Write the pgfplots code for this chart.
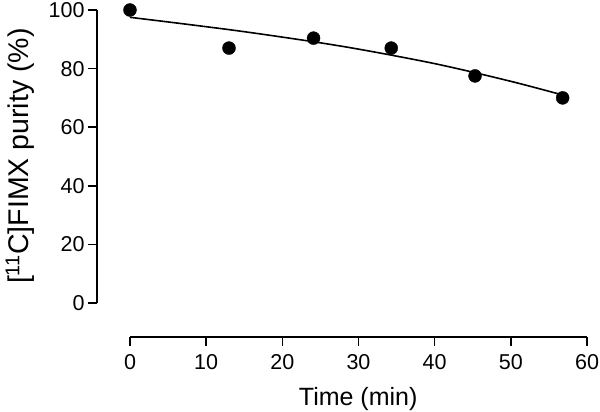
\documentclass[border=0pt]{standalone}
\usepackage{fontspec}
\setmainfont{Liberation Sans}
\usepackage{pgfplots}
\pgfplotsset{compat=1.18}
\newcommand{\tickfont}{\fontsize{21.5}{24}\selectfont}
\begin{document}
\begin{tikzpicture}
\useasboundingbox (-97pt,-75pt) rectangle (503pt,337pt);
\begin{axis}[
  scale only axis, width=490pt, height=327pt,
  xmin=-4.33, xmax=60, ymin=-11.6, ymax=100,
  axis lines=left, axis line style={draw=none, -},
  xtick={0,10,...,60}, ytick={0,20,...,100},
  tick align=outside, major tick length=9pt,
  tick style={line width=1.6pt, black},
  /pgf/number format/assume math mode=true,
  xticklabel style={font=\tickfont, yshift=-5pt},
  yticklabel style={font=\tickfont},
  xlabel={Time (min)}, ylabel={[\textsuperscript{11}C]FIMX purity (\%)},
  xlabel style={font=\fontsize{25}{27}\selectfont, at={(rel axis cs:0.533,-0.19)}, anchor=center},
  ylabel style={font=\fontsize{28.5}{30}\selectfont, at={(rel axis cs:-0.157,0.553)}, anchor=center},
  clip=false,
]
\draw[line width=1.6pt] (axis cs:-4.33,0) -- (axis cs:-4.33,100);
\draw[line width=1.6pt] (axis cs:0,-11.6) -- (axis cs:60,-11.6);
\addplot[smooth, line width=1.6pt, black] coordinates {
(0,97.5) (6,95.6) (13,93.3) (18,91.5) (24,89.2) (29,87.1) (34.3,84.6) (40,81.7) (45.3,78.6) (51,75.0) (56.8,71.0)};
\addplot[only marks, mark=*, mark size=6.5pt, black] coordinates {
(0,100) (13,87.0) (24.1,90.4) (34.3,87.0) (45.3,77.5) (56.8,70.0)};
\end{axis}
\end{tikzpicture}
\end{document}
